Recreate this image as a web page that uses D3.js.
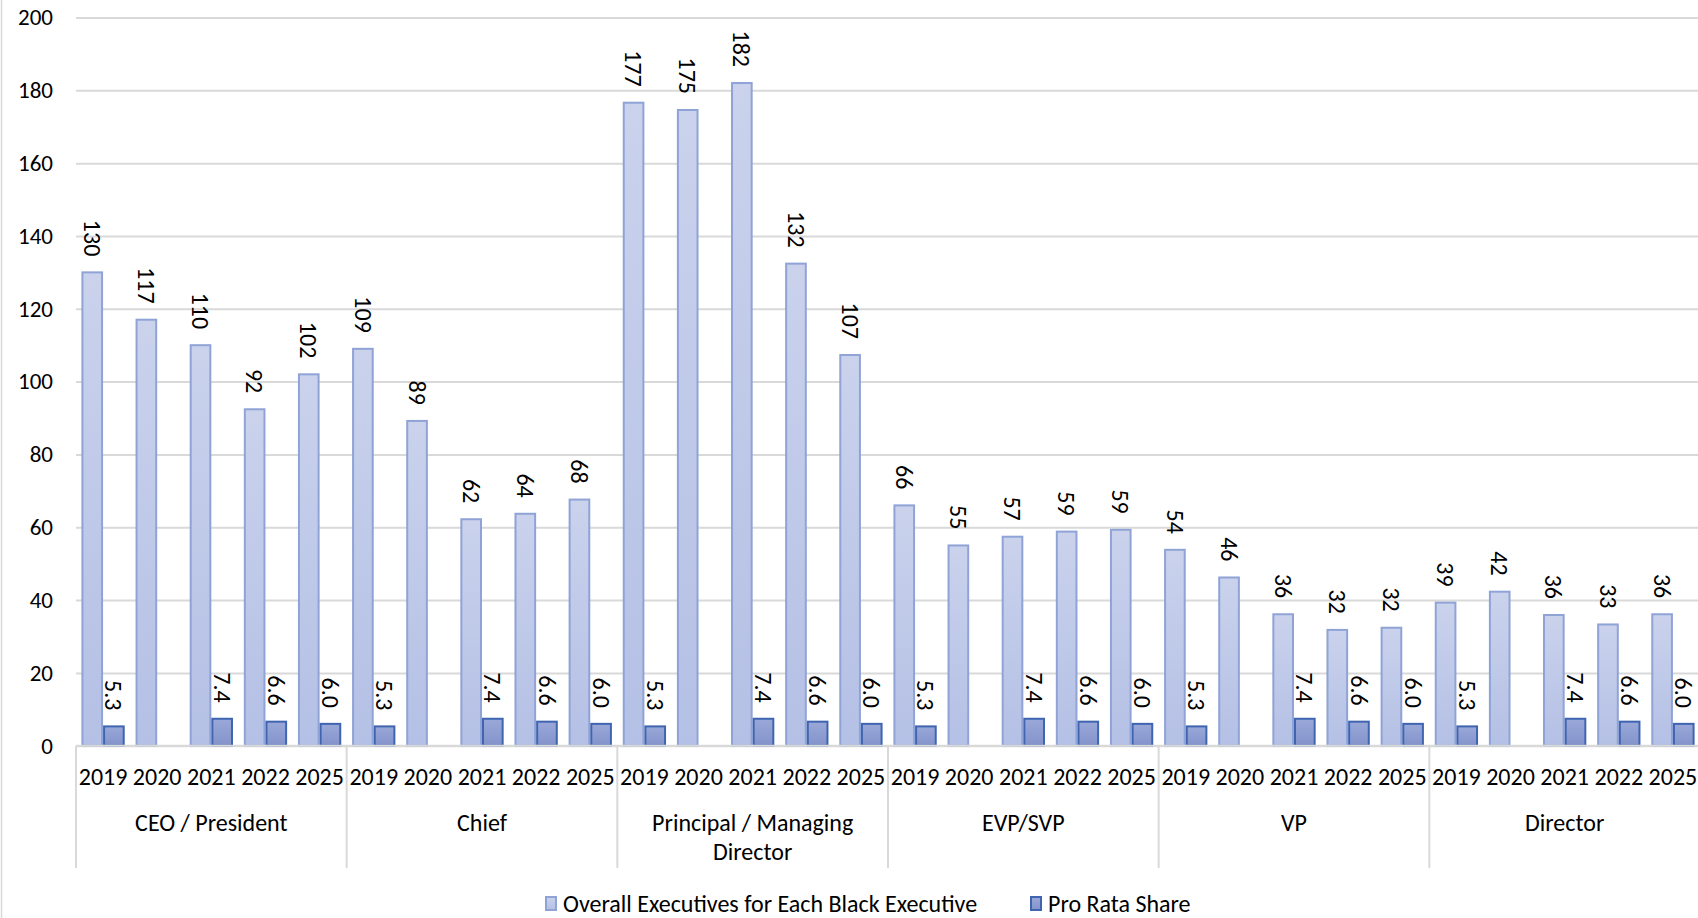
<!DOCTYPE html>
<html>
<head>
<meta charset="utf-8">
<script src="https://cdn.jsdelivr.net/npm/d3@7"></script>
<style>
  html, body { margin: 0; padding: 0; background: #fff; }
  svg { display: block; }
  text { font-family: Calibri, Carlito, Lato, sans-serif; fill: #000; }
</style>
</head>
<body>
<svg id="chart" width="1698" height="918"></svg>
<script>
// ---- data ----
const groups = ["CEO / President", "Chief", "Principal / Managing Director", "EVP/SVP", "VP", "Director"];
const years = ["2019", "2020", "2021", "2022", "2025"];
const overallCEO = [130, 117, 110, 92.4, 102];
const overallChief = [109, 89.2, 62.2, 63.7, 67.6];
const overallPMD = [176.6, 174.6, 182, 132.4, 107.3];
const overallEVP = [66, 55, 57.4, 58.8, 59.3];
const overallVP = [53.8, 46.2, 36.1, 31.8, 32.4];
const overallDirector = [39.3, 42.3, 35.9, 33.3, 36.1];
const proRata = [5.3, null, 7.4, 6.6, 6.0];
const seriesNames = ["Overall Executives for Each Black Executive", "Pro Rata Share"];
const yTicks = [0, 20, 40, 60, 80, 100, 120, 140, 160, 180, 200];

const overallByGroup = [overallCEO, overallChief, overallPMD, overallEVP, overallVP, overallDirector];
const rows = [];
groups.forEach((g, gi) => {
  years.forEach((y, yi) => {
    rows.push({ key: g + "|" + y, group: g, year: y, overall: overallByGroup[gi][yi], pro: proRata[yi] });
  });
});

// ---- layout ----
const svg = d3.select("#chart");
const plotLeft = 76, plotRight = 1700, plotTop = 17.5, plotBottom = 745.7;
const FS = "24px";

const x = d3.scaleBand().domain(rows.map(d => d.key)).range([plotLeft, plotRight]).paddingInner(0).paddingOuter(0);
const xSeries = d3.scaleBand().domain(["overall", "pro"]).range([0, x.bandwidth()]).paddingInner(0).paddingOuter(0.25);
const y = d3.scaleLinear().domain([0, 200]).range([plotBottom, plotTop]);

// gradients
const defs = svg.append("defs");
function grad(id, c1, c2) {
  const g = defs.append("linearGradient").attr("id", id).attr("x1", 0).attr("y1", 0).attr("x2", 0).attr("y2", 1);
  g.append("stop").attr("offset", "0%").attr("stop-color", c1);
  g.append("stop").attr("offset", "100%").attr("stop-color", c2);
}
grad("gLight", "#cad2ec", "#b4c0e5");
grad("gDark", "#9aa8d8", "#8393cb");

// chart border (left edge visible)
svg.append("line").attr("x1", 1.5).attr("x2", 1.5).attr("y1", 0).attr("y2", 918)
  .attr("stroke", "#d9d9d9").attr("stroke-width", 1.5);

// gridlines + y axis labels
const yAxis = d3.axisLeft(y).tickValues(yTicks).tickSize(-(plotRight - plotLeft)).tickPadding(23).tickFormat(d3.format("d"));
const gy = svg.append("g").attr("transform", `translate(${plotLeft},0)`).call(yAxis);
gy.select(".domain").remove();
gy.selectAll(".tick line").attr("stroke", "#d9d9d9").attr("stroke-width", 2);
gy.selectAll(".tick text").style("font-size", "23px").attr("fill", "#000");

// bars
const band = svg.append("g");
const slots = band.selectAll("g.slot").data(rows).join("g").attr("class", "slot")
  .attr("transform", d => `translate(${x(d.key)},0)`);

slots.append("rect")
  .attr("x", xSeries("overall") + 1)
  .attr("width", xSeries.bandwidth() - 2)
  .attr("y", d => y(d.overall))
  .attr("height", d => y(0) - y(d.overall))
  .attr("fill", "url(#gLight)")
  .attr("stroke", "#8fa3d6").attr("stroke-width", 2);

slots.filter(d => d.pro != null).append("rect")
  .attr("x", xSeries("pro") + 1)
  .attr("width", xSeries.bandwidth() - 2)
  .attr("y", d => y(d.pro))
  .attr("height", d => y(0) - y(d.pro))
  .attr("fill", "url(#gDark)")
  .attr("stroke", "#3f65b1").attr("stroke-width", 2);

// data labels (rotated 90 deg clockwise)
const labelGap = 16;
slots.append("text")
  .attr("transform", d => `translate(${xSeries("overall") + xSeries.bandwidth() / 2},${y(d.overall) - labelGap}) rotate(90)`)
  .attr("text-anchor", "end").attr("dy", "0.35em")
  .style("font-size", FS)
  .text(d => d3.format(".0f")(d.overall));

slots.filter(d => d.pro != null).append("text")
  .attr("transform", d => `translate(${xSeries("pro") + xSeries.bandwidth() / 2},${y(d.pro) - labelGap}) rotate(90)`)
  .attr("text-anchor", "end").attr("dy", "0.35em")
  .style("font-size", FS)
  .text(d => d3.format(".1f")(d.pro));

// x axis: baseline
svg.append("line").attr("x1", plotLeft).attr("x2", plotRight).attr("y1", plotBottom).attr("y2", plotBottom)
  .attr("stroke", "#d9d9d9").attr("stroke-width", 2);

// year labels
const xAxis = d3.axisBottom(x).tickSize(0).tickPadding(0).tickFormat(k => k.split("|")[1]);
const gx = svg.append("g").attr("transform", `translate(0,${plotBottom})`).call(xAxis);
gx.select(".domain").remove();
gx.selectAll(".tick text").attr("y", 31).attr("dy", "0.35em").style("font-size", FS).attr("fill", "#000");

// group separators and group labels
const xGroup = d3.scaleBand().domain(groups).range([plotLeft, plotRight]);
const sepX = groups.map(g => xGroup(g)).concat([plotRight]);
svg.append("g").selectAll("line").data(sepX).join("line")
  .attr("x1", d => d).attr("x2", d => d).attr("y1", plotBottom).attr("y2", 868)
  .attr("stroke", "#d9d9d9").attr("stroke-width", 2);

const glab = svg.append("g").selectAll("text").data(groups).join("text")
  .attr("x", g => xGroup(g) + xGroup.bandwidth() / 2)
  .attr("y", 823).attr("dy", "0.35em")
  .attr("text-anchor", "middle").style("font-size", FS);
glab.each(function(g) {
  const t = d3.select(this);
  if (g === "Principal / Managing Director") {
    t.append("tspan").attr("x", xGroup(g) + xGroup.bandwidth() / 2).text("Principal / Managing");
    t.append("tspan").attr("x", xGroup(g) + xGroup.bandwidth() / 2).attr("dy", 29).text("Director");
  } else {
    t.text(g);
  }
});

// legend
const legend = svg.append("g");
const legendItems = [
  { name: seriesNames[0], x: 545, fill: "url(#gLight)", stroke: "#8fa3d6" },
  { name: seriesNames[1], x: 1030, fill: "url(#gDark)", stroke: "#3f65b1" }
];
legendItems.forEach(it => {
  legend.append("rect").attr("x", it.x + 1).attr("y", 897).attr("width", 10).attr("height", 13)
    .attr("fill", it.fill).attr("stroke", it.stroke).attr("stroke-width", 2);
  legend.append("text").attr("x", it.x + 18).attr("y", 903.5).attr("dy", "0.35em")
    .style("font-size", FS).text(it.name);
});
</script>
</body>
</html>
